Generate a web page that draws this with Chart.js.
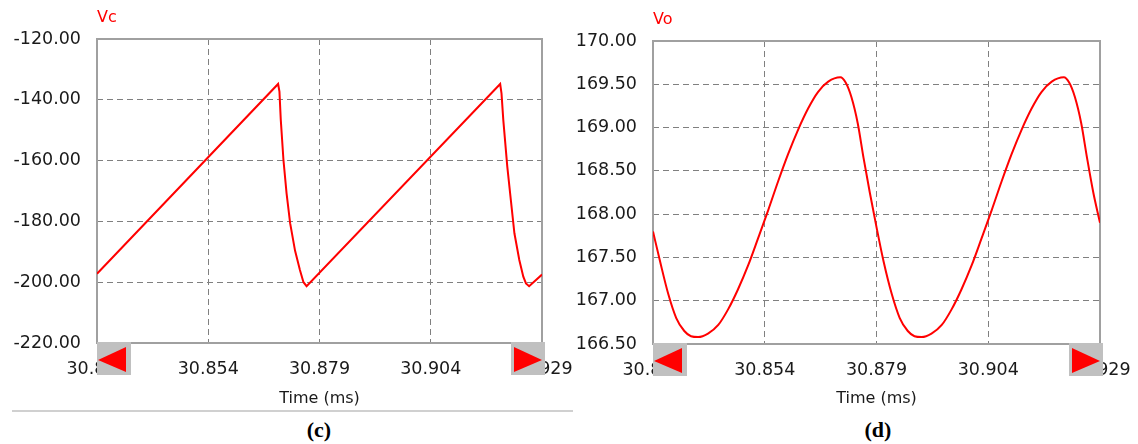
<!DOCTYPE html>
<html>
<head>
<meta charset="utf-8">
<script src="https://cdn.jsdelivr.net/npm/chart.js@4.4.1/dist/chart.umd.min.js"></script>
<style>
  html, body { margin: 0; padding: 0; background: #fff; }
  body { width: 1138px; height: 444px; position: relative; overflow: hidden; }
  .box { position: absolute; top: 0; height: 408px; }
  #boxC { left: 0; width: 591px; }
  #boxD { left: 575px; width: 574px; }
  .rule { position: absolute; left: 12px; top: 410px; width: 561px; height: 2px; background: #d0d0d0; }
  .cap { position: absolute; top: 417px; width: 60px; text-align: center;
         font: bold 22px "Liberation Serif", "Times New Roman", serif; color: #000; }
</style>
</head>
<body>
<div class="box" id="boxC"><canvas id="chartC"></canvas></div>
<div class="box" id="boxD"><canvas id="chartD"></canvas></div>
<div class="rule"></div>
<div class="cap" style="left:289px">(c)</div>
<div class="cap" style="left:848px">(d)</div>
<script>
// axis ticks
const timeTicks = [30.829, 30.854, 30.879, 30.904, 30.929];
const vcTicks = [-220, -200, -180, -160, -140, -120];
const voTicks = [166.5, 167.0, 167.5, 168.0, 168.5, 169.0, 169.5, 170.0];

// (c) capacitor voltage Vc
const vcTime = [30.8290, 30.8697, 30.8700, 30.8703, 30.8709, 30.8716, 30.8724, 30.8735, 30.8746, 30.8754, 30.8761,
                30.9196, 30.9199, 30.9203, 30.9212, 30.9220, 30.9228, 30.9239, 30.9248, 30.9254, 30.9261, 30.9290];
const vcValues = [-197.2, -134.8, -137.3, -146.6, -159.8, -170.8, -180.6, -189.6, -196.0, -200.0, -201.3,
                  -134.8, -137.9, -146.6, -162.0, -173.0, -183.9, -192.7, -198.2, -200.4, -201.3, -197.5];

// (d) output voltage Vo
const voTime = [30.8290, 30.8306, 30.8324, 30.8342, 30.8360, 30.8375, 30.8391,
                30.8413, 30.8436, 30.8458, 30.8480, 30.8503, 30.8525, 30.8548, 30.8570, 30.8592,
                30.8615, 30.8637, 30.8659, 30.8682, 30.8709,
                30.8721, 30.8734, 30.8748, 30.8761, 30.8775, 30.8790, 30.8806, 30.8824, 30.8842,
                30.8860, 30.8875, 30.8891,
                30.8913, 30.8936, 30.8958, 30.8980, 30.9003, 30.9025, 30.9048, 30.9070, 30.9092,
                30.9115, 30.9137, 30.9159, 30.9182, 30.9209,
                30.9221, 30.9234, 30.9248, 30.9261, 30.9275, 30.9290];
const voValues = [167.80, 167.45, 167.08, 166.80, 166.65, 166.59, 166.58,
                  166.62, 166.72, 166.90, 167.13, 167.41, 167.72, 168.05, 168.38, 168.69,
                  168.98, 169.22, 169.41, 169.53, 169.58,
                  169.52, 169.35, 169.05, 168.65, 168.25, 167.85, 167.45, 167.08, 166.80,
                  166.65, 166.59, 166.58,
                  166.62, 166.72, 166.90, 167.13, 167.41, 167.72, 168.05, 168.38, 168.69,
                  168.98, 169.22, 169.41, 169.53, 169.58,
                  169.52, 169.35, 169.05, 168.65, 168.25, 167.90];

const tickFont = { family: 'DejaVu Sans', size: 17.5 };

// frame, series name and the two scroll buttons of the scope window
const scopeFrame = {
  id: 'scopeFrame',
  beforeDatasetsDraw(chart) {
    const { ctx, chartArea: a } = chart;
    ctx.save();
    ctx.strokeStyle = '#a0a0a0';
    ctx.lineWidth = 2;
    ctx.strokeRect(a.left, a.top, a.right - a.left, a.bottom - a.top);
    ctx.restore();
  },
  afterDraw(chart) {
    const { ctx, chartArea: a } = chart;
    ctx.save();
    ctx.fillStyle = '#ff0000';
    ctx.font = '16px "DejaVu Sans"';
    ctx.textBaseline = 'middle';
    ctx.fillText(chart.data.datasets[0].label, a.left, a.top - 21);

    const b = a.bottom - 1;
    ctx.fillStyle = '#c0c0c0';
    ctx.fillRect(a.left, b, 34, 33);
    ctx.fillRect(a.right - 31, b, 34, 33);
    ctx.fillStyle = '#ff0000';
    ctx.beginPath();
    ctx.moveTo(a.left + 1, b + 18);
    ctx.lineTo(a.left + 29, b + 5);
    ctx.lineTo(a.left + 29, b + 30);
    ctx.closePath();
    ctx.fill();
    ctx.beginPath();
    ctx.moveTo(a.right - 28, b + 5);
    ctx.lineTo(a.right - 28, b + 30);
    ctx.lineTo(a.right, b + 18);
    ctx.closePath();
    ctx.fill();
    ctx.restore();
  }
};

function scopeChart(id, name, times, values, yTicks, yWidth, xHeight, pad, smooth) {
  const edgeless = ticks => c => (c.index === 0 || c.index === ticks.length - 1) ? 'rgba(0,0,0,0)' : '#808080';
  return new Chart(document.getElementById(id), {
    type: 'line',
    data: {
      datasets: [{
        label: name,
        data: times.map((t, i) => ({ x: t, y: values[i] })),
        borderColor: '#ff0000',
        borderWidth: 2,
        pointRadius: 0,
        tension: smooth ? 0.4 : 0,
        cubicInterpolationMode: smooth ? 'monotone' : 'default',
      }],
    },
    options: {
      responsive: true,
      maintainAspectRatio: false,
      animation: false,
      events: [],
      layout: { padding: pad },
      plugins: { legend: { display: false }, tooltip: { enabled: false } },
      scales: {
        x: {
          type: 'linear',
          min: timeTicks[0],
          max: timeTicks[timeTicks.length - 1],
          afterBuildTicks: s => { s.ticks = timeTicks.map(v => ({ value: v })); },
          afterFit: s => { s.height = xHeight; },
          border: { display: false, dash: [6, 4] },
          grid: { color: edgeless(timeTicks), lineWidth: 1, drawTicks: false },
          ticks: {
            padding: 16,
            maxRotation: 0,
            autoSkip: false,
            color: '#1a1a1a',
            font: tickFont,
            callback: v => v.toFixed(3),
          },
          title: {
            display: true,
            text: 'Time (ms)',
            color: '#1a1a1a',
            font: { family: 'DejaVu Sans', size: 16 },
            padding: 0,
          },
        },
        y: {
          min: yTicks[0],
          max: yTicks[yTicks.length - 1],
          afterBuildTicks: s => { s.ticks = yTicks.map(v => ({ value: v })); },
          afterFit: s => { s.width = yWidth; },
          border: { display: false, dash: [6, 4] },
          grid: { color: edgeless(yTicks), lineWidth: 1, drawTicks: false },
          ticks: {
            padding: 16,
            color: '#1a1a1a',
            font: tickFont,
            callback: v => v.toFixed(2),
          },
        },
      },
    },
    plugins: [scopeFrame],
  });
}

scopeChart('chartC', 'Vc', vcTime, vcValues, vcTicks, 97, 65, { top: 39, right: 49, left: 0, bottom: 0 }, false);
scopeChart('chartD', 'Vo', voTime, voValues, voTicks, 78, 64, { top: 41, right: 49, left: 0, bottom: 0 }, true);
</script>
</body>
</html>
